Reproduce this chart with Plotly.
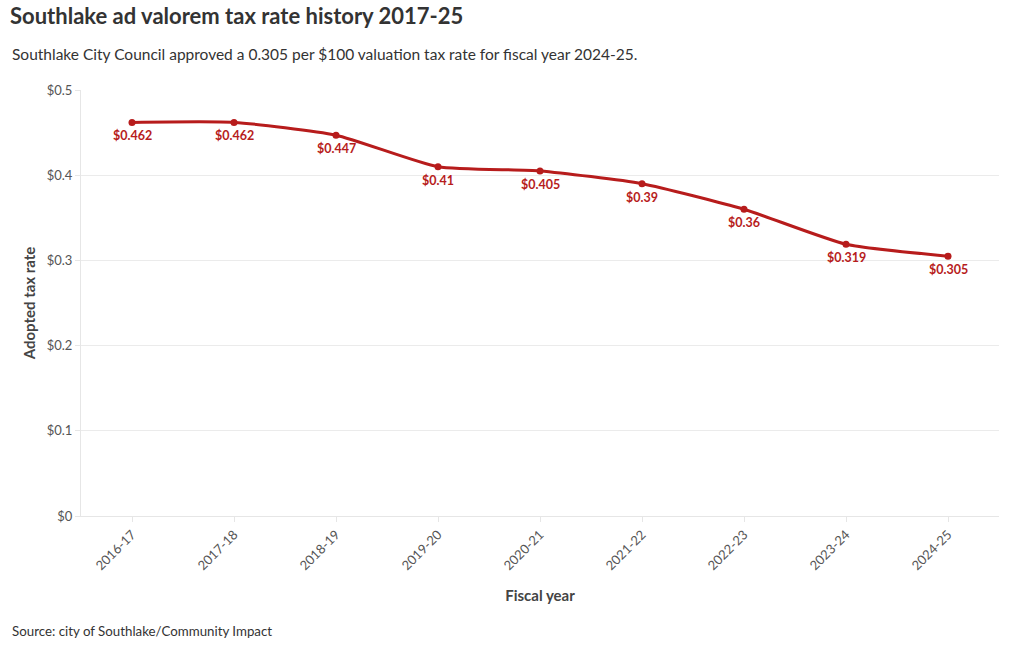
import plotly.graph_objects as go

years = ["2016-17", "2017-18", "2018-19", "2019-20", "2020-21", "2021-22", "2022-23", "2023-24", "2024-25"]
rates = [0.462, 0.462, 0.447, 0.41, 0.405, 0.39, 0.36, 0.319, 0.305]
y_ticks = [0, 0.1, 0.2, 0.3, 0.4, 0.5]
y_tick_text = ["$0", "$0.1", "$0.2", "$0.3", "$0.4", "$0.5"]

FONT = "Source Sans Pro, Lato, sans-serif"
RED = "#b71c1c"

ML, MR, MT, MB = 81, 21, 90, 134
W, H = 1020, 650
PW, PH = W - ML - MR, H - MT - MB


def px2paper(px, py):
    return (px - ML) / PW, (H - py - MB) / PH


fig = go.Figure()
fig.add_trace(go.Scatter(
    x=years, y=rates,
    mode="lines+markers",
    line=dict(color=RED, width=3, shape="spline", smoothing=0.55),
    marker=dict(color=RED, size=7),
    hoverinfo="x+y",
    showlegend=False,
))

annotations = []
for yr, v in zip(years, rates):
    annotations.append(dict(
        x=yr, y=v, xref="x", yref="y", text="$" + f"{v:g}",
        showarrow=False, yanchor="top", yshift=-4,
        font=dict(family=FONT, size=12.5, color=RED, weight="bold"),
    ))

sx, sy = px2paper(10, 54)
cx, cy = px2paper(10, 631)
annotations += [
    dict(text="Southlake City Council approved a 0.305 per $100 valuation tax rate for fiscal year 2024-25.",
         x=sx, y=sy, xref="paper", yref="paper", showarrow=False,
         xanchor="left", yanchor="middle",
         font=dict(family=FONT, size=15.5, color="#333333")),
    dict(text="Source: city of Southlake/Community Impact",
         x=cx, y=cy, xref="paper", yref="paper", showarrow=False,
         xanchor="left", yanchor="middle",
         font=dict(family=FONT, size=13.3, color="#333333")),
]

fig.update_layout(
    width=W, height=H,
    paper_bgcolor="white", plot_bgcolor="white",
    margin=dict(l=ML, r=MR, t=MT, b=MB),
    font=dict(family=FONT, color="#333333"),
    title=dict(
        text="<b>Southlake ad valorem tax rate history 2017-25</b>",
        x=10 / W, xanchor="left", xref="container", y=1 - 9 / H, yanchor="top", yref="container",
        font=dict(family=FONT, size=22, color="#333333"),
    ),
    xaxis=dict(
        type="category", range=[-0.5, 8.5],
        tickangle=-45, tickfont=dict(size=13, color="#555555"),
        showgrid=False, showline=True, linecolor="#e6e6e6", linewidth=1,
        ticks="outside", ticklen=5, tickcolor="#e6e6e6",
        title=dict(text="<b>Fiscal year</b>", font=dict(size=15, color="#444444"), standoff=18),
    ),
    yaxis=dict(
        range=[0, 0.5], tickvals=y_ticks, ticktext=y_tick_text,
        tickfont=dict(size=13, color="#555555"),
        showgrid=True, gridcolor="#ebebeb", gridwidth=1,
        zeroline=False, showline=True, linecolor="#e6e6e6",
        ticks="outside", ticklen=5, tickcolor="#e6e6e6",
        title=dict(text="<b>Adopted tax rate</b>", font=dict(size=15, color="#444444"), standoff=7),
    ),
    annotations=annotations,
)

fig.write_html("out.html")
